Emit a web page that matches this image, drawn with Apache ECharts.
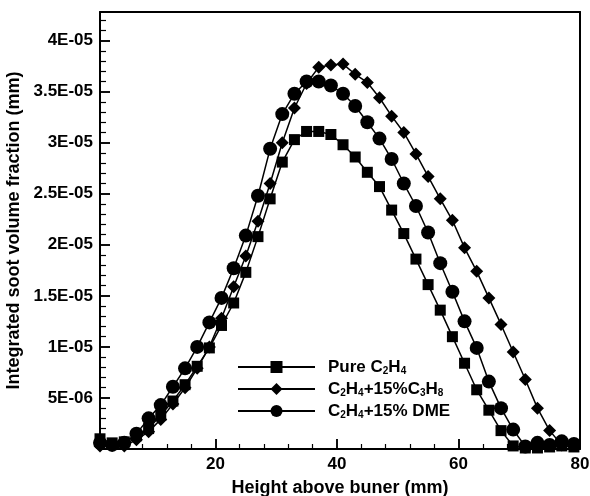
<!DOCTYPE html>
<html>
<head>
<meta charset="utf-8">
<script src="https://cdn.jsdelivr.net/npm/echarts@6/dist/echarts.min.js"></script>
<style>
  html, body { margin: 0; padding: 0; background: #fff; }
  #ct { width: 590px; height: 496px; }
</style>
</head>
<body>
<div id="ct"></div>
<script>
// height above burner (mm)
const heights = [1, 3, 5, 7, 9, 11, 13, 15, 17, 19, 21, 23, 25, 27, 29, 31, 33, 35, 37, 39,
  41, 43, 45, 47, 49, 51, 53, 55, 57, 59, 61, 63, 65, 67, 69, 71, 73, 75, 77, 79];
// soot volume fraction, in units of 1E-06
const pureC2H4 = [1.0, 0.6, 0.7, 1.3, 2.0, 3.3, 4.7, 6.3, 8.1, 9.9, 12.1, 14.3, 17.3, 20.8, 24.5, 28.1, 30.3, 31.1, 31.1, 30.8,
  29.8, 28.6, 27.1, 25.7, 23.4, 21.1, 18.6, 16.1, 13.6, 11.0, 8.4, 5.8, 3.8, 1.8, 0.3, 0.1, 0.1, 0.2, 0.3, 0.2];
const withC3H8 = [0.3, 0.4, 0.3, 0.9, 1.7, 2.9, 4.4, 6.0, 7.9, 10.0, 12.8, 15.9, 18.9, 22.3, 26.0, 30.0, 33.4, 35.8, 37.4, 37.6,
  37.7, 36.7, 35.9, 34.4, 32.6, 31.0, 28.9, 26.7, 24.5, 22.4, 19.7, 17.4, 14.8, 12.2, 9.5, 6.8, 4.0, 1.8, 0.4, 0.5];
const withDME = [0.6, 0.4, 0.6, 1.5, 3.0, 4.3, 6.1, 7.9, 10.0, 12.4, 14.8, 17.7, 20.9, 24.8, 29.4, 32.8, 34.8, 36.0, 36.0, 35.6,
  34.8, 33.6, 32.0, 30.4, 28.4, 26.0, 23.8, 21.2, 18.2, 15.4, 12.5, 9.9, 6.6, 4.0, 1.9, 0.25, 0.6, 0.4, 0.75, 0.5];

// ticks and tick labels
const xMajor = [20, 40, 60, 80];
const xMinor = [4, 8, 12, 16, 24, 28, 32, 36, 44, 48, 52, 56, 64, 68, 72, 76];
const yMajor = [5, 10, 15, 20, 25, 30, 35, 40];
const yTickLabels = ['5E-06', '1E-05', '1.5E-05', '2E-05', '2.5E-05', '3E-05', '3.5E-05', '4E-05'];
const yMinor = [1, 2, 3, 4, 6, 7, 8, 9, 11, 12, 13, 14, 16, 17, 18, 19, 21, 22, 23, 24,
  26, 27, 28, 29, 31, 32, 33, 34, 36, 37, 38, 39, 41, 42];

const legendNames = {
  'Pure C2H4': 'Pure C{s|2}H{s|4}',
  'C2H4+15%C3H8': 'C{s|2}H{s|4}+15%C{s|3}H{s|8}',
  'C2H4+15% DME': 'C{s|2}H{s|4}+15% DME'
};

const font = "'Liberation Sans', Arial, sans-serif";
const X_MIN = 1, X_MAX = 80, Y_MAX = 42.8;
const GRID = { left: 100, right: 10, top: 12, bottom: 47 };
// pixels per data unit, to turn tick lengths (px) into axis units
const xPx = (590 - GRID.left - GRID.right) / (X_MAX - X_MIN);
const yPx = (496 - GRID.top - GRID.bottom) / Y_MAX;

// inward ticks drawn as mark lines on the axis scales
function tickLine(p1, p2, w) {
  return [{ coord: p1, lineStyle: { width: w } }, { coord: p2 }];
}
const ticks = [];
xMajor.forEach(v => ticks.push(tickLine([v, 0], [v, 10 / yPx], 1.5)));
xMinor.forEach(v => ticks.push(tickLine([v, 0], [v, 5 / yPx], 1.2)));
yMajor.forEach(v => ticks.push(tickLine([X_MIN, v], [X_MIN + 10 / xPx, v], 1.5)));
yMinor.forEach(v => ticks.push(tickLine([X_MIN, v], [X_MIN + 6 / xPx, v], 1.2)));

const chart = echarts.init(document.getElementById('ct'));

function mkSeries(name, vals, symbol, size) {
  return {
    name: name,
    type: 'line',
    data: heights.map((h, i) => [h, vals[i]]),
    symbol: symbol,
    symbolSize: size,
    itemStyle: { color: '#000' },
    lineStyle: { color: '#000', width: 1.5 },
    clip: false,
    z: 5
  };
}

const frameLine = { show: true, onZero: false, lineStyle: { color: '#000', width: 2 } };

// axis that only draws a frame edge
function frameAxis(pos, min, max) {
  return {
    type: 'value', min: min, max: max, position: pos,
    axisLine: frameLine,
    axisTick: { show: false },
    axisLabel: { show: false },
    splitLine: { show: false }
  };
}

const series = [
  mkSeries('Pure C2H4', pureC2H4, 'rect', 11),
  mkSeries('C2H4+15%C3H8', withC3H8, 'diamond', 13),
  mkSeries('C2H4+15% DME', withDME, 'circle', 14)
];
series[0].markLine = {
  silent: true,
  animation: false,
  symbol: ['none', 'none'],
  label: { show: false },
  emphasis: { disabled: true },
  lineStyle: { color: '#000', width: 1.5, type: 'solid' },
  data: ticks
};

const option = {
  animation: false,
  backgroundColor: '#fff',
  textStyle: { fontFamily: font },
  grid: {
    left: GRID.left, right: GRID.right, top: GRID.top, bottom: GRID.bottom,
    outerBoundsMode: 'none',
    containLabel: false,
    show: false
  },
  legend: {
    orient: 'vertical',
    left: 237,
    top: 358,
    padding: 0,
    itemWidth: 77,
    itemHeight: 15,
    itemGap: 4,
    data: ['Pure C2H4', 'C2H4+15%C3H8', 'C2H4+15% DME'],
    formatter: name => legendNames[name],
    textStyle: {
      fontFamily: font, fontWeight: 'bold', fontSize: 17, color: '#000',
      lineHeight: 18, padding: [0, 0, 0, 8],
      rich: {
        s: { fontFamily: font, fontWeight: 'bold', fontSize: 10, color: '#000', verticalAlign: 'bottom', lineHeight: 10 }
      }
    }
  },
  xAxis: [
    {
      type: 'value', min: X_MIN, max: X_MAX, minInterval: 20, maxInterval: 20, position: 'bottom',
      name: 'Height above buner (mm)',
      nameLocation: 'middle', nameGap: 30,
      nameTextStyle: { fontFamily: font, fontWeight: 'bold', fontSize: 18, color: '#000' },
      axisLine: frameLine,
      axisTick: { show: true, inside: true, length: 10, lineStyle: { color: '#000', width: 1.5 } },
      axisLabel: {
        show: true,
        formatter: v => (xMajor.indexOf(v) >= 0 ? String(v) : ''),
        fontFamily: font, fontWeight: 'bold', fontSize: 17, color: '#000', margin: 7
      },
      splitLine: { show: false },
      z: 3
    },
    frameAxis('top', X_MIN, X_MAX)
  ],
  yAxis: [
    {
      type: 'value', min: 0, max: Y_MAX, interval: 5, position: 'left',
      name: 'Integrated soot volume fraction (mm)',
      nameLocation: 'middle', nameGap: 73,
      nameTextStyle: { fontFamily: font, fontWeight: 'bold', fontSize: 18, color: '#000' },
      axisLine: frameLine,
      axisTick: { show: true, inside: true, length: 10, lineStyle: { color: '#000', width: 1.5 } },
      axisLabel: {
        show: true,
        formatter: v => {
          const i = yMajor.indexOf(v);
          return i >= 0 ? yTickLabels[i] : '';
        },
        fontFamily: font, fontWeight: 'bold', fontSize: 17, color: '#000', margin: 7
      },
      splitLine: { show: false },
      z: 3
    },
    frameAxis('right', 0, Y_MAX)
  ],
  series: series
};

chart.setOption(option);
</script>
</body>
</html>
